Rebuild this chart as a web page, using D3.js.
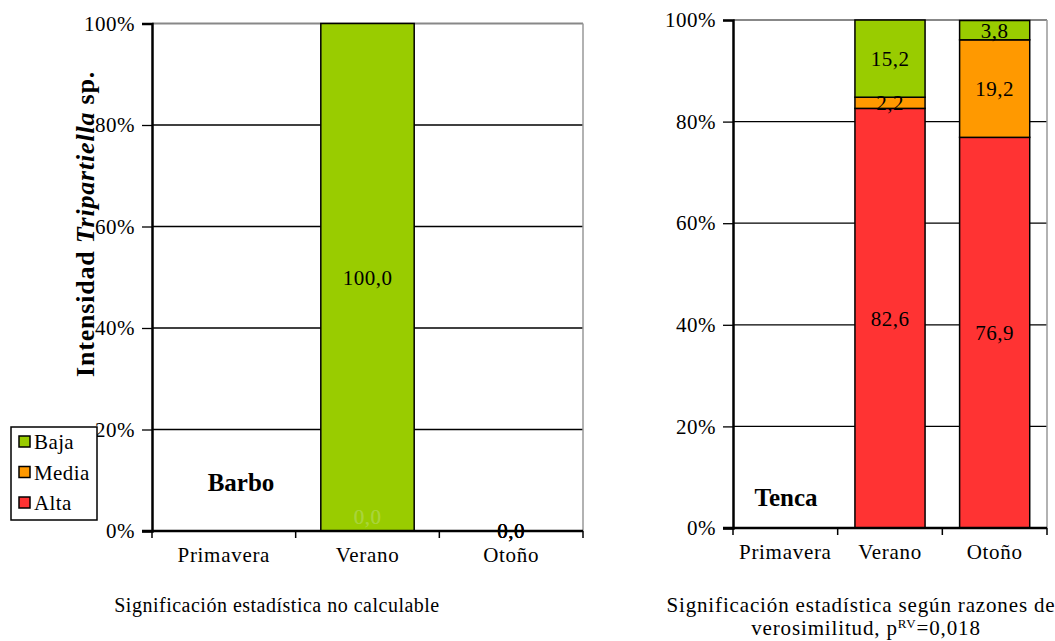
<!DOCTYPE html>
<html>
<head>
<meta charset="utf-8">
<script src="https://cdn.jsdelivr.net/npm/d3@7"></script>
<style>
  html, body { margin: 0; padding: 0; background: #fff; }
  svg text { font-family: "Liberation Serif", "Times New Roman", serif; }
</style>
</head>
<body>
<svg id="chart" width="1055" height="641"></svg>
<script>
// Seasons on the x axis
const categories = ["Primavera", "Verano", "Otoño"];
// Intensity classes, stacked bottom to top
const seriesNames = ["Alta", "Media", "Baja"];
const legendOrder = ["Baja", "Media", "Alta"];
const seriesColors = ["#FF3333", "#FF9900", "#99CC00"];
const yTicks = [0, 20, 40, 60, 80, 100];

// Barbo (% of infected fish by intensity class); Primavera has no data
const barboAlta  = [null, 0.0, 0.0];
const barboMedia = [null, 0.0, 0.0];
const barboBaja  = [null, 100.0, 0.0];

// Tenca
const tencaAlta  = [null, 82.6, 76.9];
const tencaMedia = [null, 2.2, 19.2];
const tencaBaja  = [null, 15.2, 3.8];

const FS = 21;   // base font size
const LS = 0.7;  // base letter spacing

const svg = d3.select("#chart");
const color = d3.scaleOrdinal().domain(seriesNames).range(seriesColors);
const fmt = v => v.toFixed(1).replace(".", ",");

function drawPanel(opts) {
  const { left, right, top, bottom, pad, values, name, nameX, nameY } = opts;
  const g = svg.append("g");

  const x = d3.scaleBand().domain(categories).range([left, right])
    .paddingInner(pad).paddingOuter(pad / 2);
  const y = d3.scaleLinear().domain([0, 100]).range([bottom, top]);

  // horizontal gridlines
  g.append("g").selectAll("line").data(yTicks.filter(t => t > 0 && t < 100)).join("line")
    .attr("x1", left).attr("x2", right)
    .attr("y1", d => y(d)).attr("y2", d => y(d))
    .attr("stroke", "#000").attr("stroke-width", 1.3);

  // plot frame (top and right in grey)
  g.append("line").attr("x1", left).attr("x2", right).attr("y1", y(100)).attr("y2", y(100))
    .attr("stroke", "#888").attr("stroke-width", 2);
  g.append("line").attr("x1", right).attr("x2", right).attr("y1", y(100)).attr("y2", bottom)
    .attr("stroke", "#999").attr("stroke-width", 1.5);

  // stacked data
  const rows = categories.map((c, i) => {
    const r = { cat: c, empty: values.Alta[i] === null };
    seriesNames.forEach(s => r[s] = values[s][i] === null ? 0 : values[s][i]);
    return r;
  });
  const stack = d3.stack().keys(seriesNames)(rows);

  const layers = g.append("g").selectAll("g").data(stack).join("g")
    .attr("fill", d => color(d.key));
  layers.selectAll("rect").data(d => d.filter(p => p[1] - p[0] > 0)).join("rect")
    .attr("x", d => x(d.data.cat))
    .attr("width", x.bandwidth())
    .attr("y", d => y(d[1]))
    .attr("height", d => y(d[0]) - y(d[1]))
    .attr("stroke", "#000").attr("stroke-width", 1.5);

  // y axis
  const ya = g.append("g").attr("transform", `translate(${left},0)`)
    .call(d3.axisLeft(y).tickValues(yTicks).tickSize(10).tickPadding(7).tickFormat(d => d + "%"));
  ya.select(".domain").attr("stroke", "#000").attr("stroke-width", 2.5);
  ya.selectAll(".tick line").attr("stroke", "#000").attr("stroke-width", 1.3);
  ya.selectAll(".tick text").attr("font-size", FS).attr("fill", "#000").attr("letter-spacing", 0.5);

  // x axis with tick marks between categories
  const xa = g.append("g").attr("transform", `translate(0,${bottom})`);
  xa.append("line").attr("x1", left - 10).attr("x2", right).attr("stroke", "#000").attr("stroke-width", 2.5);
  const step = (right - left) / categories.length;
  xa.selectAll("line.tk").data(d3.range(categories.length + 1)).join("line").attr("class", "tk")
    .attr("x1", d => left + d * step).attr("x2", d => left + d * step)
    .attr("y1", 0).attr("y2", 7).attr("stroke", "#000").attr("stroke-width", 1.5);
  xa.selectAll("text").data(categories).join("text")
    .attr("x", d => x(d) + x.bandwidth() / 2).attr("y", 31)
    .attr("text-anchor", "middle").attr("font-size", FS).attr("letter-spacing", LS)
    .text(d => d);

  // value labels
  const lab = g.append("g").attr("font-size", FS).attr("letter-spacing", 0.5).attr("text-anchor", "middle");
  stack.forEach(layer => {
    layer.forEach(p => {
      if (p.data.empty) return;
      const v = p[1] - p[0];
      const total = seriesNames.reduce((a, s) => a + p.data[s], 0);
      const cx = x(p.data.cat) + x.bandwidth() / 2;
      let cy = (y(p[0]) + y(p[1])) / 2;
      let fill = "#000";
      if (v === 0 && total > 0) { cy -= 14; fill = "#A9D43A"; }
      lab.append("text").attr("x", cx).attr("y", cy).attr("dy", "0.35em")
        .attr("fill", fill).text(fmt(v));
    });
  });

  // species name
  g.append("text").attr("x", nameX).attr("y", nameY).attr("text-anchor", "middle")
    .attr("font-size", 25).attr("font-weight", "bold").text(name);
}

drawPanel({
  left: 152, right: 583, top: 23.5, bottom: 531, pad: 0.35,
  values: { Alta: barboAlta, Media: barboMedia, Baja: barboBaja },
  name: "Barbo", nameX: 241, nameY: 491
});

drawPanel({
  left: 733, right: 1047, top: 20, bottom: 528, pad: 0.33,
  values: { Alta: tencaAlta, Media: tencaMedia, Baja: tencaBaja },
  name: "Tenca", nameX: 786, nameY: 506
});

// y axis title
const yt = svg.append("text")
  .attr("transform", "translate(94,224) rotate(-90)")
  .attr("text-anchor", "middle").attr("font-size", 26).attr("font-weight", "bold")
  .attr("letter-spacing", 0.8);
yt.append("tspan").text("Intensidad ");
yt.append("tspan").attr("font-style", "italic").text("Tripartiella");
yt.append("tspan").text(" sp.");

// legend
const lg = svg.append("g").attr("transform", "translate(11,427)");
lg.append("rect").attr("width", 86).attr("height", 93).attr("fill", "#fff")
  .attr("stroke", "#000").attr("stroke-width", 1.5);
legendOrder.forEach((s, i) => {
  const row = lg.append("g").attr("transform", `translate(0,${15 + i * 30.5})`);
  row.append("rect").attr("x", 8).attr("y", -6).attr("width", 11).attr("height", 11)
    .attr("fill", color(s)).attr("stroke", "#000").attr("stroke-width", 1.5);
  row.append("text").attr("x", 23).attr("y", 0).attr("dy", "0.35em")
    .attr("font-size", FS).attr("letter-spacing", 0.4).text(s);
});

// captions
svg.append("text").attr("x", 277).attr("y", 612).attr("text-anchor", "middle")
  .attr("font-size", 20).attr("letter-spacing", 0.5).text("Significación estadística no calculable");
const c2 = svg.append("text").attr("text-anchor", "middle").attr("font-size", FS).attr("letter-spacing", 0.85);
c2.append("tspan").attr("x", 861).attr("y", 612).text("Significación estadística según razones de");
const l2 = c2.append("tspan").attr("x", 866).attr("y", 635);
l2.append("tspan").text("verosimilitud, p");
l2.append("tspan").attr("font-size", 13).attr("dy", -7).text("RV");
l2.append("tspan").attr("dy", 7).text("=0,018");
</script>
</body>
</html>
